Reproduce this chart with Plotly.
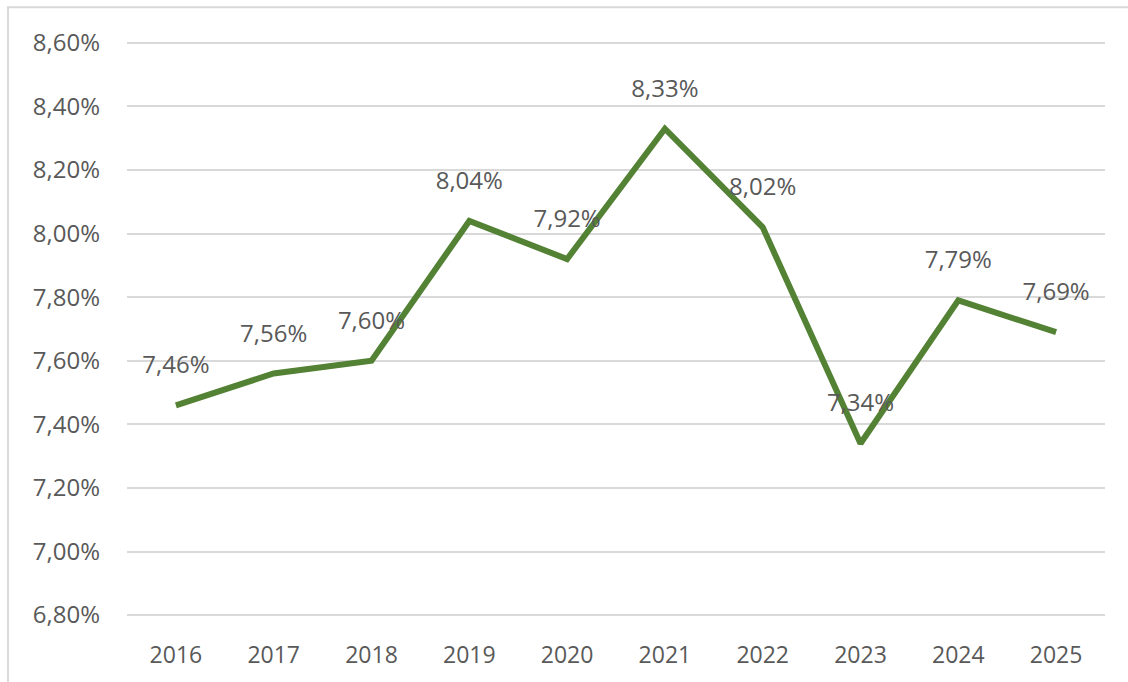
import plotly.graph_objects as go

# values
years = ["2016", "2017", "2018", "2019", "2020", "2021", "2022", "2023", "2024", "2025"]
rates = [0.0746, 0.0756, 0.0760, 0.0804, 0.0792, 0.0833, 0.0802, 0.0734, 0.0779, 0.0769]

W, H = 1128, 682
L, R, T, B = 127, 23, 41, 62

fig = go.Figure(go.Scatter(
    x=years,
    y=rates,
    mode="lines+markers+text",
    line=dict(color="#548235", width=6),
    # invisible markers only push the labels up off the line
    marker=dict(size=40, color="rgba(0,0,0,0)"),
    texttemplate="%{y:.2%}",
    textposition="top center",
    textfont=dict(size=24, color="#595959"),
    cliponaxis=False,
    hoverinfo="skip",
))

fig.update_layout(
    width=W,
    height=H,
    margin=dict(l=L, r=R, t=T, b=B),
    paper_bgcolor="white",
    plot_bgcolor="white",
    separators=",.",
    showlegend=False,
    font=dict(family="Open Sans, Noto Sans, sans-serif", size=24, color="#595959"),
    xaxis=dict(
        type="category",
        range=[-0.5, len(years) - 0.5],
        showgrid=False,
        showline=False,
        zeroline=False,
        ticks="",
        ticklabelstandoff=22,
        tickfont=dict(size=23, color="#595959"),
    ),
    yaxis=dict(
        # a little padding so the 6,80% and 8,60% gridlines are drawn
        range=[0.06794, 0.08606],
        tick0=0.068,
        dtick=0.002,
        tickformat=".2%",
        showgrid=True,
        gridcolor="#d9d9d9",
        gridwidth=2,
        zeroline=False,
        showline=False,
        ticks="",
        ticklabelstandoff=26,
        tickfont=dict(size=24, color="#595959"),
    ),
    shapes=[dict(
        type="rect", xref="paper", yref="paper",
        x0=-(L - 8) / (W - L - R), x1=(W - L + 5) / (W - L - R),
        y0=-(B + 5) / (H - T - B), y1=1 + (T - 7) / (H - T - B),
        line=dict(color="#d9d9d9", width=2),
        layer="below",
    )],
)

fig.write_html(
    "out.html",
    config={"displayModeBar": False},
    post_script="document.body.style.margin='0';",
)
